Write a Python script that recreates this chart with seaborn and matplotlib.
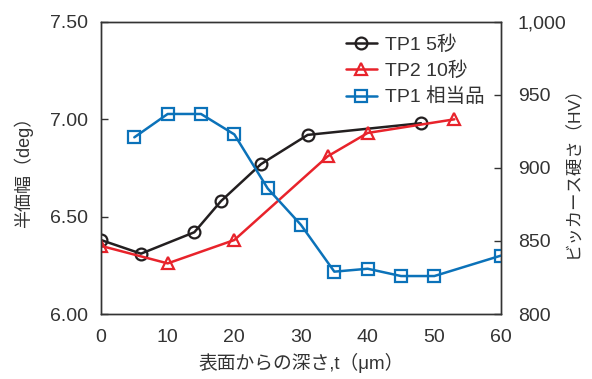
import matplotlib
matplotlib.use("Agg")
import matplotlib.pyplot as plt
import seaborn as sns
import pandas as pd
from matplotlib.ticker import FuncFormatter

sns.set_theme(style="white")
plt.rcParams['font.family'] = ['Liberation Sans', 'Noto Sans CJK JP', 'DejaVu Sans']

# --- data ---
tp1_x = [0, 6, 14, 18, 24, 31, 48]
tp1_y = [6.38, 6.31, 6.42, 6.58, 6.77, 6.92, 6.98]
tp2_x = [0, 10, 20, 34, 40, 53]
tp2_y = [6.35, 6.26, 6.38, 6.81, 6.93, 7.00]
hv_x = [5, 10, 15, 20, 25, 30, 35, 40, 45, 50, 60]
hv_y = [921, 937, 937, 923, 886, 861, 829, 831, 826, 826, 840]

labels = ["TP1 5秒", "TP2 10秒", "TP1 相当品"]
colors = ["#231f20", "#e8232b", "#0b72b9"]
left_ticks = [6.00, 6.50, 7.00, 7.50]
right_ticks = [800, 850, 900, 950, 1000]
x_ticks = [0, 10, 20, 30, 40, 50, 60]

df1 = pd.DataFrame({"x": tp1_x, "y": tp1_y})
df2 = pd.DataFrame({"x": tp2_x, "y": tp2_y})
df3 = pd.DataFrame({"x": hv_x, "y": hv_y})

fig = plt.figure(figsize=(5.92, 3.79), dpi=100)
ax = fig.add_axes([0.1706, 0.1715, 0.8463 - 0.1706, 0.942 - 0.1715])
ax2 = ax.twinx()

common = dict(linewidth=1.8, markerfacecolor="none", markeredgewidth=1.6)
sns.lineplot(data=df1, x="x", y="y", ax=ax, color=colors[0], marker="o",
             markersize=8.5, markeredgecolor=colors[0], label=labels[0], **common)
sns.lineplot(data=df2, x="x", y="y", ax=ax, color=colors[1], marker="^",
             markersize=8.5, markeredgecolor=colors[1], label=labels[1], **common)
sns.lineplot(data=df3, x="x", y="y", ax=ax2, color=colors[2], marker="s",
             markersize=9, markeredgecolor=colors[2], label=labels[2], **common)

ax.set_xlim(0, 60)
ax.set_ylim(6.0, 7.5)
ax2.set_ylim(800, 1000)
ax.set_xticks(x_ticks)
ax.set_yticks(left_ticks)
ax2.set_yticks(right_ticks)
ax.yaxis.set_major_formatter(FuncFormatter(lambda v, p: f"{v:.2f}"))
ax2.yaxis.set_major_formatter(FuncFormatter(lambda v, p: f"{int(v):,}"))

tc = "#333333"
for a in (ax, ax2):
    for s in a.spines.values():
        s.set_color(tc)
        s.set_linewidth(1.0)
    a.tick_params(direction="in", length=5, width=1, colors=tc, labelsize=14, labelcolor="#333333")
ax.tick_params(axis="x", pad=11)
ax.tick_params(axis="y", pad=9, left=True)
ax2.tick_params(axis="y", pad=12, right=True)

ax.set_xlabel("表面からの深さ,t（μm）", fontsize=13.5, color="#333333")
ax.set_ylabel("半価幅（deg）", fontsize=13, color="#333333", va="center", ha="center")
ax2.set_ylabel("ビッカース硬さ（HV）", fontsize=12.5, color="#333333", va="center", ha="center")
ax.xaxis.set_label_coords(0.5, -0.168)
ax.xaxis.label.set_va("center")
ax.yaxis.set_label_coords(-0.195, 0.5)
ax2.yaxis.set_label_coords(1.18, 0.5)
ax.grid(False)
ax2.grid(False)

h1, l1 = ax.get_legend_handles_labels()
h2, l2 = ax2.get_legend_handles_labels()
if ax.get_legend():
    ax.get_legend().remove()
if ax2.get_legend():
    ax2.get_legend().remove()
leg = ax2.legend(h1 + h2, l1 + l2, loc="upper right", bbox_to_anchor=(0.987, 0.995),
                 frameon=False, fontsize=14, handlelength=1.6, handletextpad=0.4,
                 labelspacing=0.4, borderaxespad=0.2)
for t in leg.get_texts():
    t.set_color("#333333")

fig.savefig("out.png", dpi=100)
